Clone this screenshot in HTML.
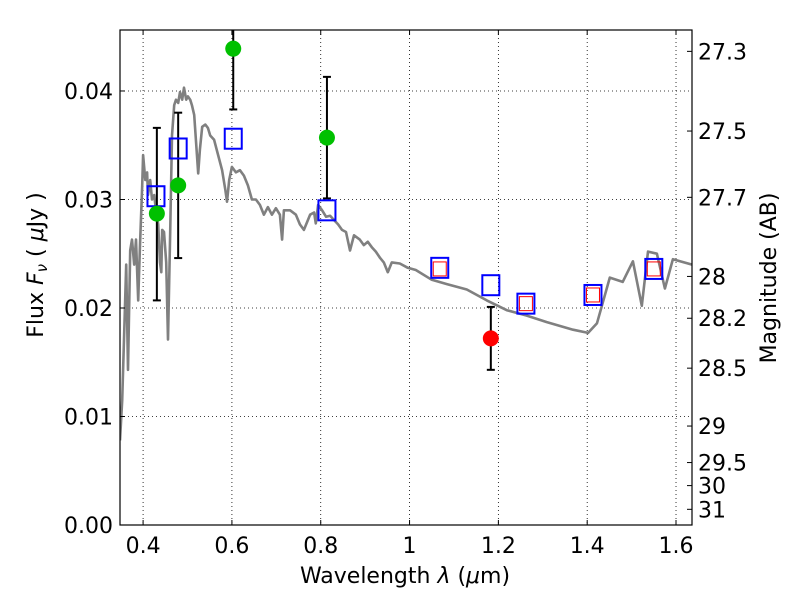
<!DOCTYPE html>
<html><head><meta charset="utf-8"><style>
body{margin:0;background:#fff}
svg{font-family:"DejaVu Sans","Liberation Sans",sans-serif}
</style></head><body>
<svg id="c" width="800" height="600">
<defs><clipPath id="clip"><rect x="120" y="30" width="572" height="495"/></clipPath></defs>
<rect x="0" y="0" width="800" height="600" fill="#fff"/>
<g id="grid"></g>
<g id="plot" clip-path="url(#clip)"></g>
<rect x="120" y="30" width="572" height="495" fill="none" stroke="#000" stroke-width="1.2"/>
<g id="axes"></g>
<text x="405" y="583" font-size="22" text-anchor="middle">Wavelength  <tspan font-style="italic">λ</tspan> (<tspan font-style="italic">μ</tspan>m)</text>
<text transform="translate(43,265) rotate(-90)" font-size="22" text-anchor="middle">Flux  <tspan font-style="italic">F</tspan><tspan font-style="italic" font-size="15" dy="4">ν</tspan><tspan dy="-4">  ( </tspan><tspan font-style="italic">μ</tspan>Jy )</text>
<text transform="translate(776,278) rotate(-90)" font-size="22" text-anchor="middle">Magnitude (AB)</text>
</svg>
<script>
const specLam=[0.348,0.353,0.357,0.362,0.366,0.371,0.375,0.380,0.384,0.389,0.393,0.398,0.400,0.405,0.409,0.411,0.416,0.420,0.425,0.429,0.434,0.438,0.441,0.443,0.447,0.452,0.456,0.461,0.465,0.470,0.474,0.479,0.483,0.488,0.492,0.497,0.501,0.506,0.510,0.515,0.519,0.524,0.528,0.533,0.540,0.546,0.551,0.560,0.569,0.578,0.585,0.589,0.594,0.600,0.609,0.618,0.627,0.636,0.645,0.654,0.663,0.672,0.681,0.690,0.699,0.708,0.713,0.717,0.731,0.744,0.753,0.762,0.776,0.785,0.789,0.794,0.803,0.812,0.821,0.830,0.839,0.848,0.857,0.866,0.875,0.888,0.897,0.906,0.915,0.924,0.934,0.942,0.951,0.960,0.978,0.996,1.014,1.050,1.084,1.129,1.174,1.219,1.264,1.309,1.368,1.402,1.422,1.451,1.480,1.503,1.523,1.537,1.557,1.575,1.593,1.636];
const specFlux=[0.0078,0.0115,0.0171,0.0240,0.0143,0.0253,0.0263,0.0240,0.0263,0.0207,0.0258,0.0313,0.0341,0.0318,0.0325,0.0304,0.0318,0.0300,0.0304,0.0290,0.0277,0.0242,0.0233,0.0272,0.0270,0.0242,0.0171,0.0270,0.0359,0.0387,0.0392,0.0389,0.0399,0.0392,0.0403,0.0392,0.0395,0.0392,0.0387,0.0378,0.0355,0.0324,0.0346,0.0367,0.0369,0.0366,0.0359,0.0355,0.0341,0.0327,0.0309,0.0298,0.0318,0.0330,0.0325,0.0327,0.0322,0.0313,0.0300,0.0300,0.0295,0.0286,0.0293,0.0286,0.0292,0.0286,0.0263,0.0290,0.0290,0.0286,0.0277,0.0272,0.0286,0.0288,0.0278,0.0295,0.0290,0.0284,0.0285,0.0281,0.0277,0.0272,0.0270,0.0253,0.0267,0.0263,0.0258,0.0261,0.0256,0.0252,0.0246,0.0242,0.0233,0.0242,0.0241,0.0237,0.0235,0.0226,0.0222,0.0217,0.0207,0.0198,0.0193,0.0187,0.0180,0.0177,0.0186,0.0228,0.0224,0.0243,0.0202,0.0252,0.0250,0.0218,0.0245,0.0240];
const modelLam=[0.429,0.479,0.603,0.814,1.068,1.183,1.262,1.413,1.550];
const modelFlux=[0.0303,0.0347,0.0356,0.0290,0.0237,0.0221,0.0204,0.0212,0.0236];
const redBoxLam=[1.068,1.262,1.413,1.550];
const redBoxFlux=[0.0236,0.0204,0.0212,0.0236];
const detLam=[0.431,0.479,0.603,0.814];
const detFlux=[0.0287,0.0313,0.0439,0.0357];
const detLo=[0.0207,0.0246,0.0383,0.0301];
const detHi=[0.0366,0.0380,0.0475,0.0413];
const ndLam=[1.183];
const ndFlux=[0.0172];
const ndLo=[0.0143];
const ndHi=[0.0201];
const xTicks=[0.4,0.6,0.8,1.0,1.2,1.4,1.6];
const xTickLabels=["0.4","0.6","0.8","1","1.2","1.4","1.6"];
const yTicks=[0,0.01,0.02,0.03,0.04];
const yTickLabels=["0.00","0.01","0.02","0.03","0.04"];
const magTicks=[27.3,27.5,27.7,28,28.2,28.5,29,29.5,30,31];

const X0=120,X1=692,Y0=525,Y1=30,LMIN=0.348,LMAX=1.636,FMIN=0,FMAX=0.04562;
function xs(l){return X0+(l-LMIN)/(LMAX-LMIN)*(X1-X0);}
function ys(f){return Y0-(f-FMIN)/(FMAX-FMIN)*(Y0-Y1);}
const NS="http://www.w3.org/2000/svg";
function mk(p,t,a){const e=document.createElementNS(NS,t);for(const k in a)e.setAttribute(k,a[k]);p.appendChild(e);return e;}
const grid=document.getElementById('grid'),plot=document.getElementById('plot'),axes=document.getElementById('axes');

xTicks.forEach((t,i)=>{const x=xs(t);
 let g=mk(grid,'line',{x1:x,x2:x,y1:Y1,y2:Y0,stroke:'#000','stroke-width':0.8,'stroke-dasharray':'1,3'});
 
 mk(axes,'line',{x1:x,x2:x,y1:Y0,y2:Y0-5,stroke:'#000'});mk(axes,'line',{x1:x,x2:x,y1:Y1,y2:Y1+5,stroke:'#000'});
 let tx=mk(axes,'text',{x:x,y:Y0+28,'font-size':22,'text-anchor':'middle'});tx.textContent=xTickLabels[i];
 });
yTicks.forEach((t,i)=>{const y=ys(t);
 if(t>0){let g=mk(grid,'line',{x1:X0,x2:X1,y1:y,y2:y,stroke:'#000','stroke-width':0.8,'stroke-dasharray':'1,3'});
 }
 mk(axes,'line',{x1:X0,x2:X0+5,y1:y,y2:y,stroke:'#000'});
 let tx=mk(axes,'text',{x:X0-7,y:y+8,'font-size':22,'text-anchor':'end'});tx.textContent=yTickLabels[i];
 });
magTicks.forEach(m=>{const f=Math.pow(10,(23.9-m)/2.5);const y=ys(f);
 mk(axes,'line',{x1:X1-5,x2:X1,y1:y,y2:y,stroke:'#000'});
 let tx=mk(axes,'text',{x:X1+6,y:y+8,'font-size':22});tx.textContent=String(m);
 });

let d=specLam.map((l,i)=>(i?'L':'M')+xs(l).toFixed(1)+','+ys(specFlux[i]).toFixed(1)).join(' ');
let sp=mk(plot,'path',{d:d,fill:'none',stroke:'#808080','stroke-width':2.6,'stroke-linejoin':'round'});


function err(l,lo,hi,name){const x=xs(l);
 let e=mk(plot,'g',{stroke:'#000','stroke-width':2});
 
 mk(e,'line',{x1:x,x2:x,y1:ys(lo),y2:ys(hi)});
 mk(e,'line',{x1:x-4,x2:x+4,y1:ys(lo),y2:ys(lo)});mk(e,'line',{x1:x-4,x2:x+4,y1:ys(hi),y2:ys(hi)});}
detLam.forEach((l,i)=>err(l,detLo[i],detHi[i],'detection-errorbar'));
ndLam.forEach((l,i)=>err(l,ndLo[i],ndHi[i],'nondetection-errorbar'));
modelLam.forEach((l,i)=>{let r=mk(plot,'rect',{x:xs(l)-8.5,y:ys(modelFlux[i])-10,width:17,height:20,fill:'none',stroke:'#0000ff','stroke-width':2});
 });
redBoxLam.forEach((l,i)=>{let r=mk(plot,'rect',{x:xs(l)-6.5,y:ys(redBoxFlux[i])-7,width:13,height:14,fill:'none',stroke:'#ff0000','stroke-width':1});
 });
detLam.forEach((l,i)=>{let c=mk(plot,'circle',{cx:xs(l),cy:ys(detFlux[i]),r:8,fill:'#00c000'});
 });
ndLam.forEach((l,i)=>{let c=mk(plot,'circle',{cx:xs(l),cy:ys(ndFlux[i]),r:8,fill:'#ff0000'});
 });
</script>
</body></html>
